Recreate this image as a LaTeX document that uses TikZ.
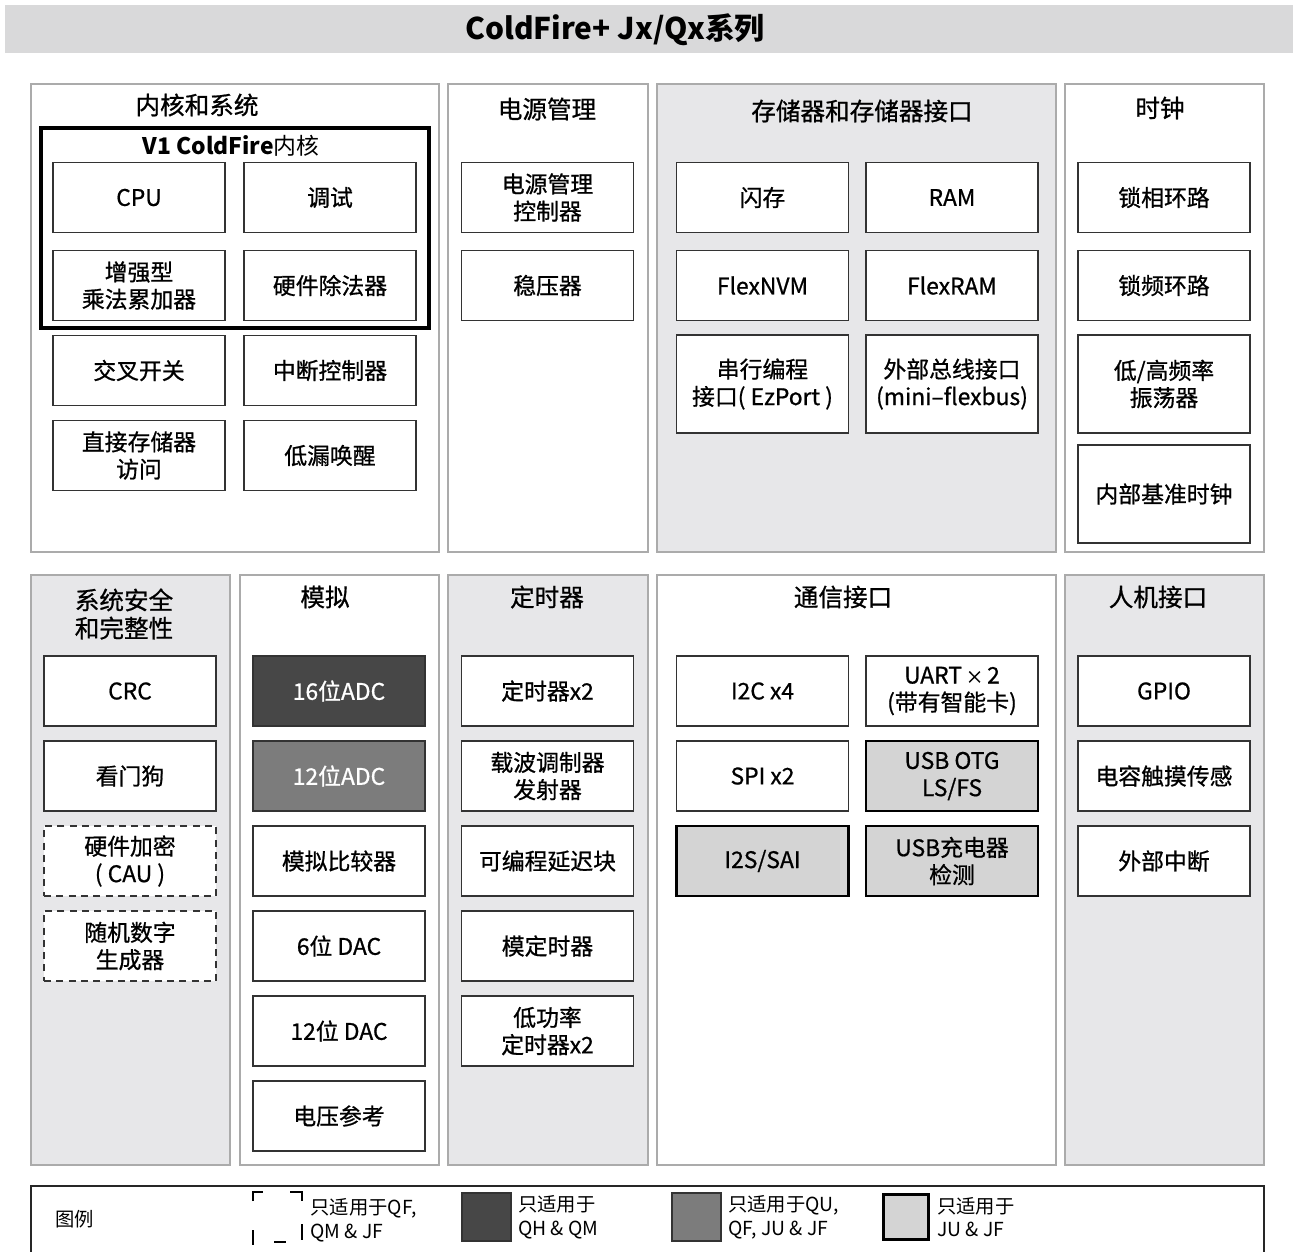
\documentclass[tikz,border=0pt]{standalone}
\usepackage{fontspec}
\setmainfont{Noto Sans CJK SC}
\newfontfamily\medfont{Noto Sans CJK SC}[FakeBold=0.8, Ligatures=TeX]
\usetikzlibrary{positioning}

\definecolor{panelgray}{HTML}{E7E7E9}
\definecolor{bargray}{HTML}{D9D9DA}
\definecolor{darkfill}{HTML}{474747}
\definecolor{midfill}{HTML}{7C7C7C}
\definecolor{litefill}{HTML}{D4D4D4}
\definecolor{edgegray}{HTML}{ABABAB}

\tikzset{
  panel/.style={draw=edgegray, line width=0.6pt},
  graypanel/.style={panel, fill=panelgray},
  ptitle/.style={font=\medfont\fontsize{14}{16}\selectfont, align=center},
  blk/.style={draw=black!80, fill=white, line width=0.8pt, minimum width=3.44cm,
    minimum height=1.4cm, align=center, inner sep=1pt,
    font=\medfont\fontsize{13}{15.5}\selectfont},
  tallblk/.style={blk, minimum height=1.96cm},
  optblk/.style={blk, dash pattern=on 4pt off 3pt},
  qhblk/.style={blk, fill=darkfill, text=white!93},
  qublk/.style={blk, fill=midfill, text=white!93},
  jublk/.style={blk, fill=litefill, draw=black, line width=1.6pt},
  legtext/.style={anchor=west, align=left, inner sep=0pt,
    font=\fontsize{11}{13.5}\selectfont}
}

\begin{document}
\begin{tikzpicture}[x=0.02cm, y=-0.02cm]
\useasboundingbox (0,0) rectangle (1293,1251);

% title bar
\fill[bargray] (5,5) rectangle (1293,53);
\node (title) at (615,30) {\fontsize{17}{20}\selectfont\bfseries ColdFire+ Jx/Qx系列};

% top row panels
\draw[panel] (31,84) rectangle (439,552);
\draw[panel] (448,84) rectangle (648,552);
\draw[graypanel] (657,84) rectangle (1056,552);
\draw[panel] (1065,84) rectangle (1264,552);
\node[ptitle] (tcore) at (197,105) {内核和系统};
\node[ptitle] (tpwr) at (547,109) {电源管理};
\node[ptitle] (tmem) at (862,111) {存储器和存储器接口};
\node[ptitle] (tclk) at (1160,108) {时钟};

% core
\draw[line width=2.2pt] (41,128) rectangle (429,328);
\node (v1) at (231,146) {\fontsize{13}{15}\selectfont\textbf{V1 ColdFire}内核};
\node[blk] (cpu) at (139,197.5) {CPU};
\node[blk] (dbg) at (330,197.5) {调试};
\node[blk] (emac) at (139,285.5) {增强型\\乘法累加器};
\node[blk] (hdiv) at (330,285.5) {硬件除法器};
\node[blk] (xbar) at (139,370.5) {交叉开关};
\node[blk] (intc) at (330,370.5) {中断控制器};
\node[blk] (dma) at (139,455.5) {直接存储器\\访问};
\node[blk] (llwu) at (330,455.5) {低漏唤醒};

% power
\node[blk] (pmc) at (547.5,197.5) {电源管理\\控制器};
\node[blk] (vreg) at (547.5,285.5) {稳压器};

% memory
\node[blk] (flash) at (762.5,197.5) {闪存};
\node[blk] (ram) at (952,197.5) {RAM};
\node[blk] (fnvm) at (762.5,285.5) {FlexNVM};
\node[blk] (fram) at (952,285.5) {FlexRAM};
\node[tallblk] (ezp) at (762.5,384) {串行编程\\接口( EzPort )};
\node[tallblk] (fbus) at (952,384) {外部总线接口\\(mini–flexbus)};

% clocks
\node[blk] (pll) at (1164,197.5) {锁相环路};
\node[blk] (fll) at (1164,285.5) {锁频环路};
\node[tallblk] (osc) at (1164,384) {低/高频率\\振荡器};
\node[tallblk] (irc) at (1164,494) {内部基准时钟};

% bottom row panels
\draw[graypanel] (31,575) rectangle (230,1165);
\draw[panel] (240,575) rectangle (439,1165);
\draw[graypanel] (448,575) rectangle (648,1165);
\draw[panel] (657,575) rectangle (1056,1165);
\draw[graypanel] (1065,575) rectangle (1264,1165);
\node[ptitle] (tsafe) at (124,614) {系统安全\\和完整性};
\node[ptitle] (tana) at (325,597) {模拟};
\node[ptitle] (ttmr) at (547,597) {定时器};
\node[ptitle] (tcom) at (843,597) {通信接口};
\node[ptitle] (thmi) at (1158,597) {人机接口};

% safety
\node[blk] (crc) at (130,691) {CRC};
\node[blk] (wdog) at (130,776) {看门狗};
\node[optblk] (cau) at (130,861) {硬件加密\\( CAU )};
\node[optblk] (rng) at (130,946) {随机数字\\生成器};

% analog
\node[qhblk] (adc16) at (339,691) {16位ADC};
\node[qublk] (adc12) at (339,776) {12位ADC};
\node[blk] (cmp) at (339,861) {模拟比较器};
\node[blk] (dac6) at (339,946) {6位 DAC};
\node[blk] (dac12) at (339,1031) {12位 DAC};
\node[blk] (vref) at (339,1116) {电压参考};

% timers
\node[blk] (tmr) at (547.5,691) {定时器x2};
\node[blk] (cmt) at (547.5,776) {载波调制器\\发射器};
\node[blk] (pdb) at (547.5,861) {可编程延迟块};
\node[blk] (mtim) at (547.5,946) {模定时器};
\node[blk] (lptmr) at (547.5,1031) {低功率\\定时器x2};

% communication
\node[blk] (i2c) at (762.5,691) {I2C x4};
\node[blk] (uart) at (952,691) {UART\,{\fontsize{10}{12}\selectfont ×}\,2\\(带有智能卡)};
\node[blk] (spi) at (762.5,776) {SPI x2};
\node[jublk] (usb) at (952,776) {USB OTG\\LS/FS};
\node[jublk] (i2s) at (762.5,861) {I2S/SAI};
\node[jublk] (usbdcd) at (952,861) {USB充电器\\检测};

% hmi
\node[blk] (gpio) at (1164,691) {GPIO};
\node[blk] (tsi) at (1164,776) {电容触摸传感};
\node[blk] (irq) at (1164,861) {外部中断};

% legend
\draw[black!85, line width=0.8pt] (31,1186) rectangle (1264,1262);
\node[legtext] (lgtitle) at (55,1219) {图例};
\draw[line width=1.1pt] (253,1201) -- (253,1192) -- (263,1192)
  (290,1192) -- (302,1192) -- (302,1201)
  (253,1230) -- (253,1245) (274,1242) -- (286,1242) (302,1224) -- (302,1240);
\node[legtext] (lgopt) at (310,1220) {只适用于QF,\\QM \& JF};
\node[qhblk, minimum width=0.98cm, minimum height=0.96cm] (lgqh) at (486.5,1217) {};
\node[legtext, right=0.12cm of lgqh] (lgqhtxt) {只适用于\\QH \& QM};
\node[qublk, minimum width=0.98cm, minimum height=0.96cm] (lgqu) at (696.5,1217) {};
\node[legtext, right=0.12cm of lgqu] (lgqutxt) {只适用于QU,\\QF, JU \& JF};
\node[jublk, minimum width=0.9cm, minimum height=0.9cm] (lgju) at (906,1217) {};
\node[legtext, right=0.14cm of lgju] (lgjutxt) {只适用于\\JU \& JF};
\end{tikzpicture}
\end{document}
